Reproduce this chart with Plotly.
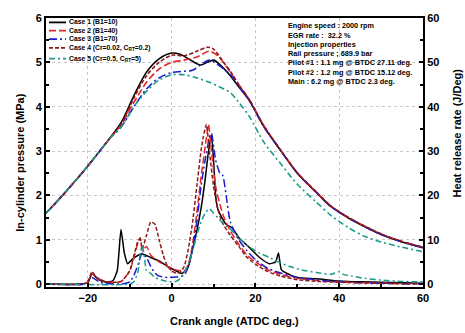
import plotly.graph_objects as go

# ---------------- data ----------------
names = ["Case 1 (B1=10)", "Case 2 (B1=40)", "Case 3 (B1=70)",
         "Case 4 (Cr=0.02, C<sub>RT</sub>=0.2)", "Case 5 (Cr=0.5, C<sub>RT</sub>=5)"]

# In-cylinder pressure (MPa)
p_common_x = [-30, -27, -24, -21, -18, -15]
p_common_y = [1.60, 1.90, 2.22, 2.55, 2.90, 3.26]

p1_x = p_common_x + [-12, -9, -6, -3, 0, 2, 4, 6, 7, 8.5, 10, 11.5, 14, 16, 18.6, 22, 26.4, 30, 34.5, 38, 42.4, 46, 50, 55, 60]
p1_y = p_common_y + [3.65, 4.25, 4.78, 5.08, 5.21, 5.18, 5.08, 4.97, 4.94, 5.00, 5.05, 4.95, 4.70, 4.45, 4.13, 3.55, 2.96, 2.50, 2.07, 1.75, 1.48, 1.30, 1.12, 0.95, 0.82]

p2_x = p_common_x + [-12, -9, -6, -3, 0, 3, 6, 9, 11, 14, 16, 18.6, 22, 26.4, 30, 34.5, 38, 42.4, 46, 50, 55, 60]
p2_y = p_common_y + [3.60, 4.10, 4.55, 4.85, 5.00, 5.05, 5.12, 5.25, 5.15, 4.78, 4.50, 4.15, 3.57, 2.97, 2.51, 2.08, 1.76, 1.49, 1.31, 1.13, 0.96, 0.83]

p3_x = p_common_x + [-12, -9, -6, -3, 0, 3, 5, 7, 9, 11, 14, 16, 18.6, 22, 26.4, 30, 34.5, 38, 42.4, 46, 50, 55, 60]
p3_y = p_common_y + [3.55, 4.00, 4.40, 4.65, 4.77, 4.80, 4.82, 4.95, 5.05, 4.95, 4.72, 4.46, 4.13, 3.55, 2.96, 2.50, 2.07, 1.75, 1.48, 1.30, 1.12, 0.95, 0.82]

p4_x = p_common_x + [-12, -9, -6, -3, 0, 3, 6, 8.5, 10, 12, 14, 16, 18.6, 22, 26.4, 30, 34.5, 38, 42.4, 46, 50, 55, 60]
p4_y = p_common_y + [3.62, 4.20, 4.70, 5.00, 5.16, 5.15, 5.25, 5.34, 5.30, 5.05, 4.80, 4.50, 4.15, 3.57, 2.97, 2.51, 2.08, 1.76, 1.49, 1.31, 1.13, 0.96, 0.83]

p5_x = p_common_x + [-12, -9, -6, -3, 0, 3, 6, 9, 12, 14, 16, 18.6, 22, 26.4, 30, 34.5, 38, 42.4, 46, 50, 55, 60]
p5_y = p_common_y + [3.55, 4.00, 4.35, 4.60, 4.72, 4.72, 4.65, 4.55, 4.42, 4.32, 4.10, 3.77, 3.20, 2.67, 2.25, 1.85, 1.55, 1.26, 1.08, 0.95, 0.83, 0.73]

# Heat release rate (J/Deg)
h1_x = [-30, -22, -20, -19, -18, -17, -16, -15, -14, -13, -12.1, -11.3, -10.5, -9.5, -8, -7, -5, -3, -1, 1, 2.5, 4, 5, 6, 7, 8, 8.8, 9.5, 10, 10.5, 11, 12, 13, 14.5, 16, 18.6, 21, 23.3, 24.8, 25.5, 26.2, 28, 30, 34.5, 40, 45, 50, 55, 60]
h1_y = [0, 0, 0.3, 2.4, 1.5, 0.8, 0.5, 0.5, 0.8, 3.0, 12.3, 7.0, 4.6, 5.5, 6.5, 6.8, 6.0, 5.2, 4.0, 3.0, 2.4, 4.0, 8.0, 12.0, 17.0, 23.6, 30.0, 33.5, 28.0, 20.0, 17.0, 15.0, 13.5, 12.6, 10.5, 8.2, 6.0, 4.6, 5.0, 7.0, 3.2, 2.2, 1.5, 1.2, 0.7, 0.5, 0.4, 0.3, 0.2]

h2_x = [-30, -21, -20, -19, -18, -16, -14, -12, -10, -9, -8, -7.5, -7, -6, -5, -3, -1, 1, 3, 4, 5, 6, 7, 8, 8.8, 9.5, 10.5, 11.5, 12.5, 14, 16, 18, 20, 23, 26, 30, 35, 40, 45, 50, 55, 60]
h2_y = [0, 0, 0.5, 2.5, 1.5, 0.6, 0.4, 0.6, 3.0, 6.0, 9.5, 10.5, 7.5, 8.5, 6.5, 5.0, 4.0, 3.2, 3.0, 4.5, 9.0, 16.0, 24.0, 31.0, 36.0, 30.0, 22.0, 18.0, 15.0, 12.0, 9.0, 6.5, 5.0, 3.2, 2.2, 1.3, 0.8, 0.5, 0.3, 0.2, 0.1, 0.1]

h3_x = [-30, -21, -19, -17, -12, -10, -9, -8, -7, -6, -5, -4, -3, -1, 1, 3, 4, 5, 6, 7, 8, 9, 9.5, 10.5, 11.5, 12.2, 13, 14, 16, 18, 20, 23, 26, 30, 35, 40, 45, 50, 55, 60]
h3_y = [0, 0, 1.5, 0.3, 0, 0.5, 2.0, 4.5, 7.0, 6.0, 4.0, 2.5, 1.8, 1.5, 1.6, 2.0, 4.0, 8.0, 14.0, 22.0, 28.0, 33.0, 34.0, 28.0, 25.0, 24.5, 20.0, 14.0, 10.0, 7.5, 5.5, 3.5, 2.5, 1.5, 0.9, 0.5, 0.3, 0.2, 0.1, 0.1]

h4_x = [-30, -21, -20, -19, -18, -16, -14, -12, -10, -9, -8, -7.5, -7, -6, -5, -4, -3, -2, -1, 0, 1, 2, 3, 4, 5, 6, 7, 7.5, 8.3, 9, 10, 11, 12, 14, 16, 18, 20, 23, 26, 30, 35, 40, 45, 50, 55, 60]
h4_y = [0, 0, 0.6, 2.8, 1.5, 0.6, 0.4, 0.6, 3.0, 6.5, 9.8, 10.2, 8.0, 11.0, 14.0, 13.5, 10.0, 6.5, 4.0, 3.0, 2.5, 2.6, 4.0, 8.0, 14.0, 22.0, 30.0, 33.0, 36.0, 30.0, 22.0, 17.0, 14.0, 11.0, 8.5, 6.0, 4.5, 2.8, 1.8, 1.0, 0.6, 0.4, 0.3, 0.2, 0.1, 0.1]

h5_x = [-30, -10, -9, -8, -7.5, -7, -6.5, -6, -5, -4, -2, 0, 1, 2, 3, 4, 5, 6, 7, 8, 9, 10, 11, 12, 14, 16, 18.6, 21, 23.3, 25.5, 28, 31, 34.5, 38, 40, 41, 43, 46, 50, 55, 60]
h5_y = [0, 0, 0.5, 3.0, 7.0, 8.6, 6.0, 3.0, 2.4, 1.5, 0.8, 0.5, 0.6, 1.2, 2.5, 4.5, 7.5, 11.0, 14.0, 16.0, 17.0, 16.0, 15.0, 14.0, 12.4, 10.5, 8.3, 7.0, 6.0, 5.0, 4.0, 3.2, 2.6, 2.2, 2.8, 2.2, 1.8, 1.3, 0.9, 0.6, 0.5]

x_ticks = [-20, 0, 20, 40, 60]
y1_ticks = [0, 1, 2, 3, 4, 5, 6]
y2_ticks = [0, 10, 20, 30, 40, 50, 60]

info_lines = ["Engine speed : 2000 rpm", "EGR rate :  32.2 %", "Injection properties",
              "Rail pressure ; 689.9 bar", "Pilot #1 : 1.1 mg @ BTDC 27.11 deg.",
              "Pilot #2 : 1.2 mg @ BTDC 15.12 deg.", "Main : 6.2 mg @ BTDC 2.3 deg."]

# ---------------- styles ----------------
colors = ["#000000", "#e3262b", "#1c1ccf", "#8b1a1a", "#1a9a8a"]
dashes = ["solid", "7px,3px", "8px,3px,2px,3px", "4px,2px", "6px,3px,2px,3px"]

P = [(p1_x, p1_y), (p2_x, p2_y), (p3_x, p3_y), (p4_x, p4_y), (p5_x, p5_y)]
H = [(h1_x, h1_y), (h2_x, h2_y), (h3_x, h3_y), (h4_x, h4_y), (h5_x, h5_y)]

fig = go.Figure()
for i in range(5):
    fig.add_trace(go.Scatter(x=P[i][0], y=P[i][1], mode="lines", name=names[i],
                             legendgroup=str(i), line=dict(color=colors[i], width=1.6, dash=dashes[i], shape="spline", smoothing=0.8),
                             yaxis="y"))
for i in range(5):
    fig.add_trace(go.Scatter(x=H[i][0], y=H[i][1], mode="lines", name=names[i], showlegend=False,
                             legendgroup=str(i), line=dict(color=colors[i], width=1.5, dash=dashes[i], shape="spline", smoothing=0.5),
                             yaxis="y2"))

FONT = "Arial, Liberation Sans, sans-serif"
tickfont = dict(family=FONT, size=11, color="black", weight="bold")

fig.update_layout(
    width=465, height=333,
    margin=dict(l=46, r=42, t=12, b=46),
    paper_bgcolor="white", plot_bgcolor="white",
    showlegend=False,
    xaxis=dict(range=[-30, 60], tickvals=x_ticks, ticks="inside", ticklen=4, tickwidth=1.5,
               tickcolor="black", showline=True, linewidth=2, linecolor="black", mirror=True,
               showgrid=True, gridcolor="#c8c8c8", griddash="dot", gridwidth=1, zeroline=False,
               tickfont=tickfont,
               minor=dict(tickvals=[-30, -10, 10, 30, 50], ticks="inside", ticklen=3, tickcolor="black", tickwidth=1.5, showgrid=False)),
    yaxis=dict(range=[-0.066, 6], tickvals=y1_ticks, ticks="inside", ticklen=4, tickwidth=1.5,
               tickcolor="black", showline=True, linewidth=2, linecolor="black",
               showgrid=True, gridcolor="#c8c8c8", griddash="dot", gridwidth=1, zeroline=False,
               tickfont=tickfont,
               minor=dict(tickvals=[0.5, 1.5, 2.5, 3.5, 4.5, 5.5], ticks="inside", ticklen=3, tickcolor="black", tickwidth=1.5, showgrid=False)),
    yaxis2=dict(range=[-0.66, 60], tickvals=y2_ticks, ticks="inside", ticklen=4, tickwidth=1.5,
                tickcolor="black", showline=True, linewidth=2, linecolor="black",
                overlaying="y", side="right", showgrid=False, zeroline=False,
                tickfont=tickfont,
                minor=dict(tickvals=[5, 15, 25, 35, 45, 55], ticks="inside", ticklen=3, tickcolor="black", tickwidth=1.5)),
)

# manual compact legend (paper coordinates)
PW, PH, L, B = 377.0, 275.0, 46.0, 287.0
def px(xp):
    return (xp - L) / PW
def py(yp):
    return (B - yp) / PH

leg_rows = [16.5, 25.0, 33.5, 42.5, 53.5]
legfont = dict(family=FONT, size=6.8, color="black", weight="bold")
for i in range(5):
    fig.add_shape(type="line", xref="paper", yref="paper", x0=px(49), x1=px(66), y0=py(leg_rows[i]), y1=py(leg_rows[i]),
                  line=dict(color=colors[i], width=1.8, dash=dashes[i]))
    fig.add_annotation(text=names[i], xref="paper", yref="paper", x=px(68), y=py(leg_rows[i]),
                       xanchor="left", yanchor="middle", showarrow=False, font=legfont, borderpad=0)

titlefont = dict(family=FONT, size=11, color="black", weight="bold")
fig.add_annotation(text="Crank angle (ATDC deg.)", xref="paper", yref="paper",
                   x=0.5, y=py(322), xanchor="center", yanchor="middle", showarrow=False, font=titlefont)
fig.add_annotation(text="In-cylinder pressure (MPa)", xref="paper", x=px(20), yref="paper", y=py(160),
                   textangle=-90, xanchor="center", yanchor="middle", showarrow=False, font=titlefont)
fig.add_annotation(text="Heat release rate (J/Deg)", xref="paper", x=px(457), yref="paper", y=py(130),
                   textangle=-90, xanchor="center", yanchor="middle", showarrow=False, font=titlefont)

infofont = dict(family=FONT, size=7.3, color="black", weight="bold")
for k, line in enumerate(info_lines):
    fig.add_annotation(text=line, xref="paper", yref="paper",
                       x=px(287), y=py(20 + 9.5 * k), xanchor="left", yanchor="middle", showarrow=False,
                       font=infofont, borderpad=0)

fig.write_html("out.html")
